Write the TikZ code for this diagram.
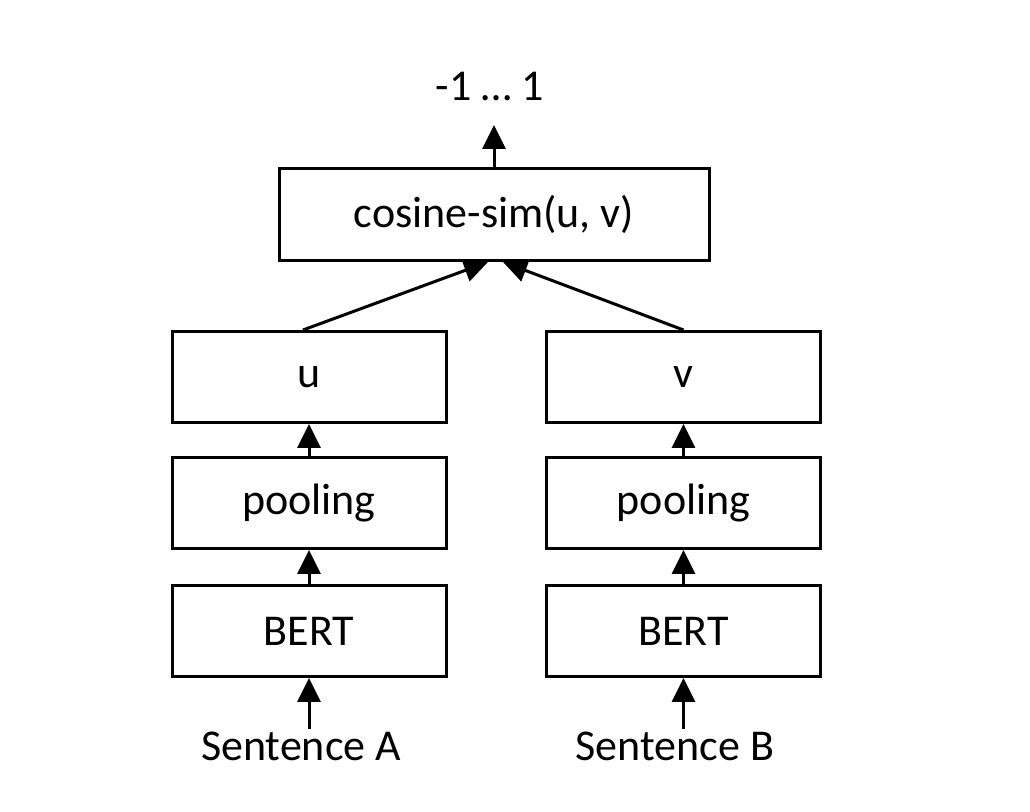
\documentclass[tikz,border=0pt]{standalone}
\usepackage{fontspec}
\setmainfont{Carlito}
\usetikzlibrary{arrows.meta,calc}
\begin{document}
\begin{tikzpicture}[x=0.5pt,y=-0.5pt,
  box/.style={draw,line width=1.5pt,minimum width=137pt,minimum height=45.5pt,inner sep=0pt,font=\fontsize{22}{24}\selectfont},
  lbl/.style={font=\fontsize{22}{24}\selectfont,inner sep=0pt},
  arr/.style={line width=1.5pt,-{Triangle[length=12pt,width=11.5pt]}}]
\useasboundingbox (0,0) rectangle (1030,812);
% similarity head
\node[box,minimum width=215pt,minimum height=46pt] (cos) at (494,214.5) {cosine-sim(u, v)};
\node[lbl] (res) at (490,87) {-1 … 1};
\coordinate (tip) at (494,125);
% left branch
\node[box] (u) at (309,377) {u};
\node[box] (poolA) at (309,503) {pooling};
\node[box] (bertA) at (309,631) {BERT};
\node[lbl,anchor=north] (sa) at (301,732) {Sentence A};
% right branch
\node[box] (v) at (683.5,377) {v};
\node[box] (poolB) at (683.5,503) {pooling};
\node[box] (bertB) at (683.5,631) {BERT};
\node[lbl,anchor=north] (sb) at (675,732) {Sentence B};
% connectors
\draw[arr] (cos.north) -- (tip);
\draw[arr] ($(u.north)+(-6,0)$) -- ($(cos.south)+(-6,0)$);
\draw[arr] (v.north) -- ($(cos.south)+(9,0)$);
\draw[arr] (poolA) -- (u);
\draw[arr] (bertA) -- (poolA);
\draw[arr] (bertA.south |- 0,729) -- (bertA.south);
\draw[arr] (poolB) -- (v);
\draw[arr] (bertB) -- (poolB);
\draw[arr] (bertB.south |- 0,729) -- (bertB.south);
\end{tikzpicture}
\end{document}
